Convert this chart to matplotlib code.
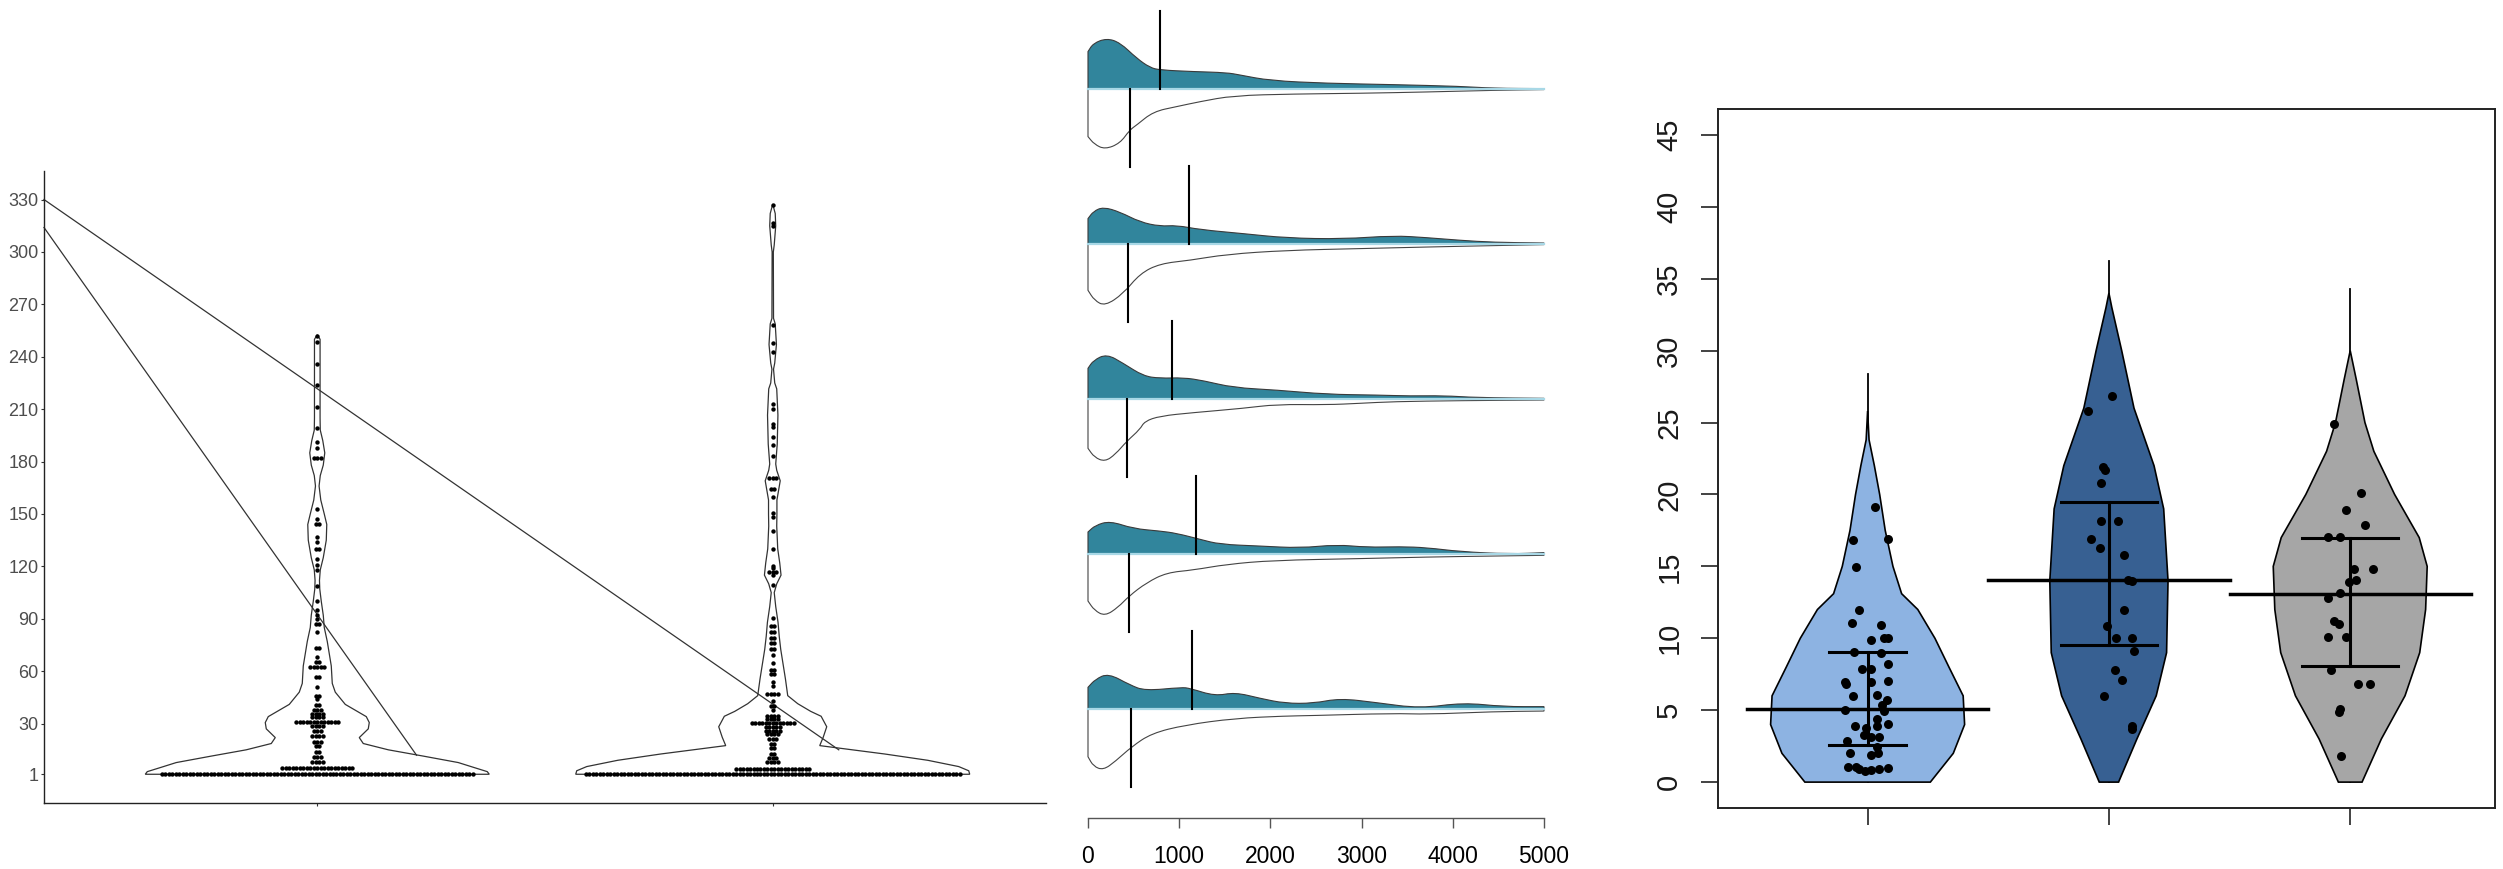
import numpy as np
import matplotlib
matplotlib.use("Agg")
import matplotlib.pyplot as plt
from matplotlib.path import Path
from matplotlib.patches import PathPatch

plt.rcParams['font.family'] = ['Liberation Sans', 'DejaVu Sans']

W, H = 2503, 869

# ---------------- panel 1: violins with dotplot ----------------
P1_TICKS = [1, 30, 60, 90, 120, 150, 180, 210, 240, 270, 300, 330]

# violin profiles: value, half width (read in pixels)
vio_a_y = [1, 2.5, 5, 7.7, 11.4, 15, 18.6, 22, 27, 30.6, 34, 41, 48, 53, 63, 70, 77, 85, 92,
           100, 107, 112, 118, 125, 135, 144, 150, 158, 166, 172, 178, 185, 192, 198, 205, 250, 252.6]
vio_a_w = [172, 170, 156, 141, 106, 71, 46, 42, 51, 52, 49, 28, 18, 15, 14, 12, 10, 7, 6,
           4, 2.5, 2.2, 3, 6, 9, 9.5, 7, 3.5, 1.8, 3, 6, 7.5, 5.5, 3, 2.8, 2.8, 0]
vio_b_y = [1, 3, 5.4, 9, 12.6, 17.4, 22.2, 28.2, 34.2, 37, 41.4, 46, 55.6, 72.5, 80, 88, 97, 105,
           110, 115, 122, 130, 143, 150, 158, 164, 169, 175, 178.6, 190, 206.6, 221.6, 225, 232.9,
           236.4, 247, 258.8, 262, 300, 304, 315, 322, 327.4]
vio_b_w = [197, 196, 186, 155, 112, 47, 50.5, 54, 48.4, 38, 25, 15, 12.7, 8, 6.5, 5.3, 3, 1.5,
           4, 8.3, 7, 5, 4, 4.2, 4.2, 6, 7.5, 4, 3, 4.5, 5.2, 4, 2, 0.8,
           2, 3.7, 2.5, 0.8, 0.6, 1.5, 3, 2.5, 0]

# dotplot bins: value, number of dots
dots_a_v = [1, 4.5, 8, 11, 14, 17, 19.5, 23, 25.5, 28.5, 30.9, 33.5, 35.7, 38, 40.4, 44, 46, 51,
            56.4, 62.5, 65, 68, 73.4, 82.7, 87, 89.8, 92, 94.8, 100, 109, 118, 121, 124, 130,
            134, 137, 144, 147, 153, 182, 188, 191, 199, 211, 224, 236, 248.5, 252]
dots_a_n = [90, 21, 4, 3, 2, 2, 3, 4, 3, 4, 13, 4, 4, 3, 2, 1, 2, 1,
            2, 5, 2, 1, 2, 1, 2, 1, 1, 1, 1, 1, 1, 1, 1, 2,
            1, 1, 2, 1, 1, 3, 1, 1, 1, 1, 1, 1, 1, 1]
dots_b_v = [1, 4.2, 7.8, 10.2, 12.6, 16.2, 18.6, 21, 23.9, 25.8, 28.2, 30.2, 32.6, 34.5, 37.9,
            40.3, 42.7, 46.8, 51.6, 54, 58.4, 60.8, 64.9, 69.2, 72.8, 76.4, 79.2, 82.6, 85.8,
            90.5, 109.5, 114.8, 117, 119, 120.5, 129.7, 140, 148, 150.3, 159.6, 164.3, 170.8,
            183, 189.5, 194.2, 199.8, 201.7, 210, 213, 242.9, 248, 258.4, 315, 316.8, 326.9]
dots_b_n = [108, 22, 4, 3, 2, 2, 2, 3, 4, 5, 5, 13, 4, 4, 1,
            2, 1, 4, 1, 1, 2, 2, 1, 1, 2, 2, 2, 2, 2,
            1, 1, 1, 3, 1, 1, 1, 1, 1, 1, 1, 2, 3,
            1, 1, 1, 1, 1, 1, 1, 1, 1, 1, 1, 1, 1]

# stray segments of the violin paths
seg_a_x, seg_a_y = [0.4, 2.145], [330, 15]
seg_b_x, seg_b_y = [0.4, 1.218], [314, 11.9]

# ---------------- panel 2: split densities ----------------
DENS_TICKS = [0, 1000, 2000, 3000, 4000, 5000]
r1_top = [(0, 37.7), (58, 46), (205, 51), (351, 46.7), (534, 31), (680, 21.7), (790, 19.3),
          (1155, 17.7), (1520, 16.7), (1667, 14.3), (1996, 8.7), (2617, 6), (3348, 4.7),
          (4079, 3), (4444, 1), (5000, 0.7)]
r1_bot = [(0, 47.3), (70, 55), (186, 60), (351, 54), (457, 40.7), (534, 35.7), (716, 22.3),
          (972, 17.3), (1228, 12.3), (1594, 6.3), (2251, 4.7), (2982, 4), (3714, 2.7),
          (4444, 1), (5000, 0.3)]
r2_top = [(0, 25.7), (60, 33), (168, 37.3), (351, 32.3), (570, 22.3), (790, 18), (972, 19),
          (1228, 14.7), (1703, 10.7), (2178, 6.3), (2800, 5.3), (3348, 8.7), (3714, 6.7),
          (4079, 4), (4444, 2), (5000, 1.3)]
r2_bot = [(0, 46), (70, 56), (186, 61.7), (387, 49.3), (570, 29.3), (790, 19.3), (1118, 16),
          (1520, 10), (2178, 6), (2982, 4.3), (3714, 2.7), (4444, 1.3), (5000, 0.3)]
r3_top = [(0, 31), (60, 39), (205, 45.3), (387, 36), (607, 23.3), (790, 21), (1045, 21.7),
          (1265, 18.7), (1594, 11.7), (2069, 9.3), (2617, 5), (3165, 4.3), (3531, 3.3),
          (3896, 3.7), (4262, 1.7), (5000, 1)]
r3_bot = [(0, 49), (70, 58), (186, 62.3), (300, 55), (424, 42), (570, 30), (620, 22),
          (790, 16.7), (1155, 13.3), (1703, 9), (2069, 5), (2617, 5.5), (2982, 4),
          (3348, 2.3), (4079, 1.3), (5000, 0.7)]
r4_top = [(0, 22.3), (80, 29), (241, 33.3), (497, 25.7), (790, 23.3), (972, 21), (1228, 15),
          (1447, 10), (1886, 8.3), (2325, 6.3), (2727, 9.7), (3056, 7), (3421, 7.7),
          (3714, 6.7), (4079, 2.7), (4627, 0.3), (5000, 1.7)]
r4_bot = [(0, 46.7), (70, 56), (186, 61.7), (330, 53), (450, 41.7), (643, 28.3), (863, 18.3),
          (1155, 15.7), (1520, 10), (2032, 6), (2982, 4.3), (3714, 2.7), (4444, 1.7),
          (5000, 1)]
r5_top = [(0, 22), (80, 30), (223, 36), (461, 24.3), (625, 18.6), (1027, 22), (1118, 21),
          (1393, 13.3), (1612, 17), (1886, 11), (2160, 6), (2471, 6), (2763, 11),
          (3165, 6.7), (3640, 1), (4115, 6.7), (4554, 2.7), (5000, 2.7)]
r5_bot = [(0, 47.4), (60, 57), (168, 60.7), (300, 52), (478, 37.4), (697, 24), (1064, 15.7),
          (1612, 9), (2160, 6.7), (2434, 6.3), (3348, 4), (3714, 5), (4444, 2.3), (5000, 1.7)]
top_mark = [790, 1107, 925, 1181, 1140]
bot_mark = [457, 439, 428, 450, 471]

# ---------------- panel 3: violins with points ----------------
V_TICKS = [0, 5, 10, 15, 20, 25, 30, 35, 40, 45]
vio1_y = [0, 2, 4, 6, 8, 10, 12, 13.1, 15, 17.5, 20, 22, 23.8, 25.8]
vio1_w = [0.26, 0.355, 0.402, 0.396, 0.337, 0.279, 0.208, 0.141, 0.105, 0.073, 0.05, 0.028, 0.006, 0]
vio2_y = [0, 3, 6, 9, 14, 19, 22, 26, 30, 33, 34]
vio2_w = [0.04, 0.116, 0.196, 0.239, 0.245, 0.227, 0.187, 0.104, 0.053, 0.012, 0]
vio3_y = [0, 3, 6, 9, 12, 15, 17, 20, 23, 25, 28, 30]
vio3_w = [0.049, 0.129, 0.227, 0.288, 0.3125, 0.319, 0.286, 0.184, 0.098, 0.061, 0.025, 0]
whisk_top = [28.4, 36.2, 34.3]
mid_val = [5.05, 14.05, 13.05]
q_low = [2.57, 9.53, 8.06]
q_high = [9.02, 19.48, 17.0]
vio_colors = ['#8DB3E2', '#376092', '#A6A6A6']

pts1 = [(0.029, 19.16), (-0.061, 16.85), (0.086, 16.91), (-0.049, 14.99), (-0.037, 11.94),
        (-0.066, 11.04), (0.056, 10.91), (0.012, 9.85), (0.066, 10.01), (0.086, 10.01),
        (-0.056, 9.05), (0.056, 8.99), (0.086, 8.18), (-0.025, 7.86), (0.012, 7.86),
        (-0.093, 6.96), (-0.091, 6.80), (0.086, 7.03), (0.012, 6.96), (-0.061, 6.00),
        (0.037, 6.07), (0.081, 5.74), (0.061, 5.36), (-0.093, 5.04), (0.069, 4.97),
        (0.037, 4.40), (-0.054, 3.92), (0.037, 3.92), (0.086, 4.01), (-0.007, 3.75),
        (-0.017, 3.27), (0.049, 3.11), (0.012, 3.11), (-0.086, 2.86), (0.037, 2.47),
        (-0.074, 1.99), (0.012, 1.89), (0.044, 1.99), (-0.081, 1.03), (-0.037, 0.93),
        (0.012, 0.87), (0.049, 0.93), (0.086, 0.99), (-0.012, 0.80), (-0.049, 1.03)]
pts2 = [(-0.086, 25.83), (0.012, 26.83), (-0.025, 21.89), (-0.015, 21.73), (-0.032, 20.83),
        (-0.032, 18.13), (0.037, 18.13), (-0.076, 16.91), (-0.037, 16.27), (0.061, 15.79),
        (0.078, 14.02), (0.096, 13.96), (0.061, 12.0), (-0.007, 10.88), (0.029, 10.01),
        (0.096, 10.01), (0.103, 9.11), (0.025, 7.77), (0.054, 7.12), (-0.020, 6.0),
        (0.096, 3.92), (0.096, 3.69)]
pts3 = [(-0.066, 24.87), (0.044, 20.12), (-0.017, 18.90), (0.061, 17.88), (-0.091, 17.04),
        (-0.042, 17.04), (0.015, 14.83), (0.093, 14.83), (-0.005, 13.93), (0.025, 14.02),
        (-0.091, 12.80), (-0.042, 13.13), (-0.066, 11.20), (-0.047, 10.98), (-0.091, 10.08),
        (-0.017, 10.08), (-0.078, 7.77), (0.032, 6.80), (0.081, 6.80), (-0.047, 4.88),
        (-0.042, 5.10), (-0.037, 1.83)]


def px_rect(left, top, right, bottom):
    return [left / W, 1 - bottom / H, (right - left) / W, (bottom - top) / H]


def smooth_curve(pts, base, sign):
    # quadratic bezier through midpoints, closed down to the baseline
    xs = [p[0] for p in pts]
    ys = [base + sign * p[1] / 155.0 for p in pts]
    verts = [(0, base), (xs[0], ys[0])]
    codes = [Path.MOVETO, Path.LINETO]
    verts.append(((xs[0] + xs[1]) / 2, (ys[0] + ys[1]) / 2))
    codes.append(Path.LINETO)
    for k in range(1, len(xs) - 1):
        verts += [(xs[k], ys[k]), ((xs[k] + xs[k + 1]) / 2, (ys[k] + ys[k + 1]) / 2)]
        codes += [Path.CURVE3, Path.CURVE3]
    verts += [(xs[-1], ys[-1]), (5000, base)]
    codes += [Path.LINETO, Path.LINETO]
    return Path(verts, codes)


fig = plt.figure(figsize=(W / 100, H / 100), dpi=100)

# ---------- panel 1 ----------
ax1 = fig.add_axes(px_rect(44, 170.8, 1046, 803))
ax1.set_xlim(0.4, 2.6)
ax1.set_ylim(-15.45, 346.45)
x_scale = 1002 / 2.2          # pixels per x unit
y_scale = (803 - 170.8) / 361.9
dot_step = 2 * y_scale / x_scale

for c, vy, vw in [(1, vio_a_y, vio_a_w), (2, vio_b_y, vio_b_w)]:
    vy = np.array(vy)
    vw = np.array(vw) / x_scale
    xs = np.concatenate([c - vw, (c + vw)[::-1]])
    ys = np.concatenate([vy, vy[::-1]])
    ax1.fill(xs, ys, facecolor='white', edgecolor='#333333', lw=0.9, zorder=2)

for c, dv, dn in [(1, dots_a_v, dots_a_n), (2, dots_b_v, dots_b_n)]:
    xs, ys = [], []
    for v, n in zip(dv, dn):
        for j in range(n):
            xs.append(c + (j - (n - 1) / 2) * dot_step)
            ys.append(v)
    ax1.scatter(xs, ys, s=10, color='black', linewidths=0, zorder=3)

ax1.plot(seg_a_x, seg_a_y, color='#333333', lw=0.9, zorder=2, clip_on=False)
ax1.plot(seg_b_x, seg_b_y, color='#333333', lw=0.9, zorder=2, clip_on=False)

ax1.set_yticks(P1_TICKS)
ax1.set_yticklabels([str(t) for t in P1_TICKS])
ax1.set_xticks([1, 2])
ax1.set_xticklabels(['', ''])
ax1.tick_params(axis='both', length=2.5, width=0.8, color='#333333',
                labelsize=13, labelcolor='#4D4D4D', pad=1.5)
for s in ['top', 'right']:
    ax1.spines[s].set_visible(False)
for s in ['left', 'bottom']:
    ax1.spines[s].set_linewidth(1.0)
    ax1.spines[s].set_color('#222222')

# ---------- panel 2 ----------
ax2 = fig.add_axes(px_rect(1084.35, 4.05, 1547.65, 818))
ax2.set_xlim(-40, 5040)
ax2.set_ylim(-0.701, 4.55)
rows_top = [r1_top, r2_top, r3_top, r4_top, r5_top]
rows_bot = [r1_bot, r2_bot, r3_bot, r4_bot, r5_bot]
for i in range(5):
    base = 4 - i
    top_path = smooth_curve(rows_top[i], base, 1)
    ax2.add_patch(PathPatch(top_path, facecolor='#31859C', edgecolor='none', zorder=2))
    ax2.add_patch(PathPatch(top_path, facecolor='none', edgecolor='#3a3a3a', lw=0.8, zorder=3))
    bot_path = smooth_curve(rows_bot[i], base, -1)
    ax2.add_patch(PathPatch(bot_path, facecolor='none', edgecolor='#444444', lw=0.8, zorder=3))
    ax2.plot([0, 5000], [base, base], color='#A8D8E6', lw=1.6, zorder=3)
    ax2.plot([top_mark[i], top_mark[i]], [base, base + 0.503], color='black', lw=1.5, zorder=4)
    ax2.plot([bot_mark[i], bot_mark[i]], [base - 0.503, base], color='black', lw=1.5, zorder=4)

for s in ['top', 'right', 'left']:
    ax2.spines[s].set_visible(False)
ax2.spines['bottom'].set_bounds(0, 5000)
ax2.spines['bottom'].set_color('#555555')
ax2.spines['bottom'].set_linewidth(1.0)
ax2.set_yticks([])
ax2.set_xticks(DENS_TICKS)
ax2.set_xticklabels([str(t) for t in DENS_TICKS])
ax2.tick_params(axis='x', direction='out', length=7.2, width=1.0, color='#555555',
                labelsize=16.5, labelcolor='black', pad=12)

# ---------- panel 3 ----------
ax3 = fig.add_axes(px_rect(1718, 109, 2495, 808))
ax3.set_xlim(0.38, 3.6)
ax3.set_ylim(-1.8, 46.8)
profiles = [(vio1_y, vio1_w), (vio2_y, vio2_w), (vio3_y, vio3_w)]
cap_half = [0.16, 0.2, 0.2]
for i, (vy, vw) in enumerate(profiles):
    c = i + 1
    vy = np.array(vy)
    vw = np.array(vw)
    ax3.plot([c, c], [0, whisk_top[i]], color='black', lw=1.3, zorder=1)
    xs = np.concatenate([c - vw, (c + vw)[::-1]])
    ys = np.concatenate([vy, vy[::-1]])
    ax3.fill(xs, ys, facecolor=vio_colors[i], edgecolor='black', lw=1.2, zorder=2)
    ax3.plot([c, c], [q_low[i], q_high[i]], color='black', lw=2.2, zorder=4)
    for q in (q_low[i], q_high[i]):
        ax3.plot([c - cap_half[i], c + cap_half[i]], [q, q], color='black', lw=2.2, zorder=4)
    ax3.plot([c - 0.5, c + 0.5], [mid_val[i], mid_val[i]], color='black', lw=2.5, zorder=4)

for c, pts in [(1, pts1), (2, pts2), (3, pts3)]:
    ax3.scatter([c + p[0] for p in pts], [p[1] for p in pts], s=42, color='black',
                linewidths=0, zorder=5)

ax3.set_yticks(V_TICKS)
ax3.set_yticklabels([str(t) for t in V_TICKS], rotation=90, va='center')
ax3.set_xticks([1, 2, 3])
ax3.set_xticklabels(['', '', ''])
ax3.tick_params(axis='both', direction='out', length=12, width=1.2, color='#222222',
                labelsize=21, labelcolor='#1a1a1a', pad=13)
for s in ax3.spines.values():
    s.set_linewidth(1.4)
    s.set_color('#222222')

fig.savefig('out.png', dpi=100)
